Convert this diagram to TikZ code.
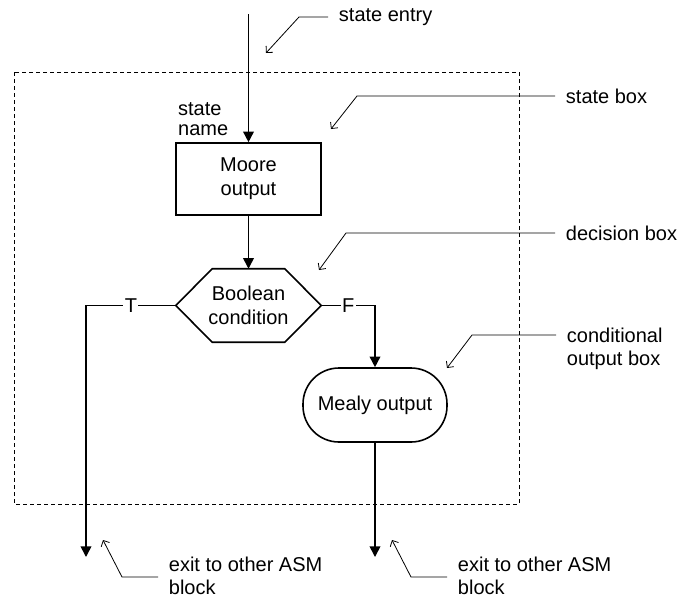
\documentclass[tikz,border=0pt]{standalone}
\usepackage{fontspec}
\setmainfont{Liberation Sans}
\usetikzlibrary{arrows.meta}

\begin{document}
\begin{tikzpicture}[x=0.75pt, y=-0.75pt,
        flow/.style={line width=1.2pt, -{Triangle[length=8pt,width=8pt]}},
        leader/.style={line width=0.6pt, -{Straight Barb[length=3.5pt,width=7pt]}},
        boxtext/.style={font=\fontsize{15pt}{18pt}\selectfont, align=center},
        note/.style={font=\fontsize{15pt}{17pt}\selectfont, align=left, anchor=west, inner xsep=8pt, inner ysep=0pt}]
        \useasboundingbox (0,0) rectangle (677,596);

        % dashed outline of the ASM block
        \draw[dash pattern=on 3pt off 2.25pt, line width=0.6pt] (14,72) rectangle (519,504);

        \node[boxtext, draw, line width=1.2pt, minimum width=108.75pt, minimum height=54pt] (moore) at (248.5,179) {Moore\\output};
        \node[boxtext, minimum width=108.75pt, minimum height=54.75pt] (cond) at (248.5,305.5) {Boolean\\condition};
        \draw[line width=1.2pt] (cond.west) -- ([xshift=27.4pt]cond.north west) -- ([xshift=-27.4pt]cond.north east) -- (cond.east) -- ([xshift=-27.4pt]cond.south east) -- ([xshift=27.4pt]cond.south west) -- cycle;
        \node[boxtext, draw, line width=1.2pt, rounded corners=27pt, minimum width=108pt, minimum height=55.5pt] (mealy) at (375,405) {Mealy output};

        \node[anchor=south west, inner sep=0pt, align=left, font=\fontsize{15pt}{15pt}\selectfont] (name) at ([xshift=2pt,yshift=4.5pt]moore.north west) {state\\name};

        \coordinate (entry) at (248.5,14);
        \coordinate (exitT) at (86,557);
        \coordinate (exitF) at (375,557);

        \draw[flow] (entry) -- (moore.north);
        \draw[flow] (moore.south) -- (cond.north);
        \draw[flow] (cond.west) -| node[pos=0.25, fill=white, inner sep=1pt, font=\fontsize{15pt}{15pt}\selectfont] (tlab) {T} (exitT);
        \draw[flow] (cond.east) -| node[pos=0.25, fill=white, inner sep=1pt, font=\fontsize{15pt}{15pt}\selectfont] (flab) {F} (mealy.north);
        \draw[flow] (mealy.south) -- (exitF);

        % notes
        \node[note] (lblentry) at (328,17) {state entry};
        \coordinate (tipentry) at (266,53);
        \draw[leader] (lblentry.west) -- ++(-29,0) -- (tipentry);

        \node[note] (lblbox) at (555,96) {state box};
        \coordinate (tipbox) at (331,129);
        \draw[leader] (lblbox.west) -- ++(-198,0) -- (tipbox);

        \node[note] (lbldec) at (555,233) {decision box};
        \coordinate (tipdec) at (319,270);
        \draw[leader] (lbldec.west) -- ++(-209,0) -- (tipdec);

        \node[note] (lblcond) at (556,349) {conditional\\output box};
        \coordinate (tipcond) at (447,368);
        \draw[leader] (lblcond.west) ++(0,-14) -- ++(-84,0) -- (tipcond);

        \node[note] (lblexitT) at (158,576) {exit to other ASM\\block};
        \coordinate (tipexitT) at (103,540);
        \draw[leader] (lblexitT.west) ++(0,1) -- ++(-36,0) -- (tipexitT);

        \node[note] (lblexitF) at (447,576) {exit to other ASM\\block};
        \coordinate (tipexitF) at (392,540);
        \draw[leader] (lblexitF.west) ++(0,1) -- ++(-36,0) -- (tipexitF);

    \end{tikzpicture}
\end{document}
